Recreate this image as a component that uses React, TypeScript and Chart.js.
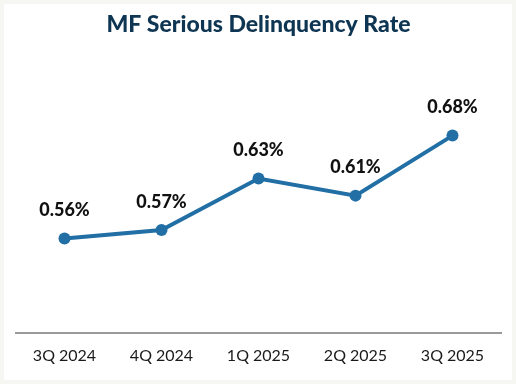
import React, { useEffect, useRef } from "react";
import { Chart, registerables } from "chart.js";

Chart.register(...registerables);

const categories = ["3Q 2024", "4Q 2024", "1Q 2025", "2Q 2025", "3Q 2025"];
const rates = [0.56, 0.57, 0.63, 0.61, 0.68];
const rateLabels = ["0.56%", "0.57%", "0.63%", "0.61%", "0.68%"];
const titleText = "MF Serious Delinquency Rate";

const FONT = "Lato, 'Noto Sans', sans-serif";

const valueLabelPlugin = {
  id: "valueLabels",
  afterDatasetsDraw(chart: any) {
    const ctx = chart.ctx;
    const meta = chart.getDatasetMeta(0);
    ctx.save();
    ctx.font = `900 18px ${FONT}`;
    ctx.fillStyle = "#111111";
    ctx.textAlign = "center";
    ctx.textBaseline = "middle";
    meta.data.forEach((pt: any, i: number) => {
      ctx.fillText(rateLabels[i], pt.x, pt.y - 28);
    });
    ctx.restore();
  },
};

export default function App() {
  const ref = useRef<HTMLCanvasElement | null>(null);
  useEffect(() => {
    document.body.style.margin = "0";
    const chart = new Chart(ref.current as HTMLCanvasElement, {
      type: "line",
      data: {
        labels: categories,
        datasets: [
          {
            data: rates,
            borderColor: "#216fa5",
            backgroundColor: "#216fa5",
            borderWidth: 4,
            pointRadius: 6,
            pointHoverRadius: 6,
            pointBackgroundColor: "#216fa5",
            pointBorderWidth: 0,
            tension: 0,
          },
        ],
      },
      options: {
        animation: false,
        responsive: false,
        maintainAspectRatio: false,
        layout: { padding: { left: 12, right: 11, top: 0, bottom: 10 } },
        plugins: {
          legend: { display: false },
          tooltip: { enabled: false },
          title: {
            display: true,
            text: titleText,
            color: "#0e3552",
            font: { family: FONT, size: 23, weight: "900" },
            padding: { top: 7, bottom: 37 },
          },
        },
        scales: {
          x: {
            offset: true,
            grid: { display: false },
            border: { display: true, color: "#9a9a9a", width: 2 },
            ticks: {
              color: "#1a1a1a",
              font: { family: FONT, size: 16 },
              padding: 5,
              maxRotation: 0,
            },
          },
          y: {
            display: false,
            min: 0.45,
            max: 0.75,
          },
        },
      },
      plugins: [valueLabelPlugin],
    });
    return () => chart.destroy();
  }, []);

  return (
    <div
      style={{
        position: "absolute",
        left: 0,
        top: 0,
        width: 516,
        height: 384,
        boxSizing: "border-box",
        border: "4px solid #f6f6f3",
        background: "#ffffff",
      }}
    >
      <canvas ref={ref} width={508} height={376} style={{ display: "block" }} />
    </div>
  );
}
